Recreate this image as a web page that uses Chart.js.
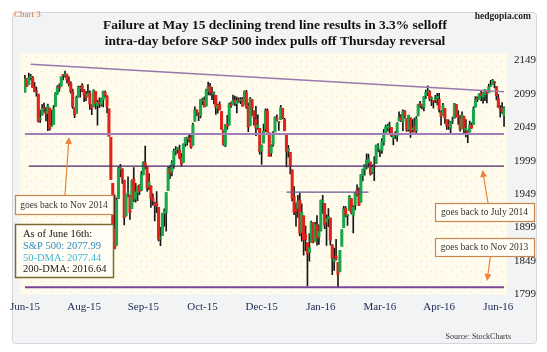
<!DOCTYPE html>
<html>
<head>
<meta charset="utf-8">
<script src="https://cdn.jsdelivr.net/npm/chart.js@4.4.0/dist/chart.umd.min.js"></script>
<style>
  html, body { margin: 0; padding: 0; background: #fff; }
  canvas { display: block; }
</style>
</head>
<body>
<canvas id="chart" width="547" height="352"></canvas>
<script>
// S&P 500 daily candles, Jun 18 2015 - Jun 16 2016
const dates = [
  '2015-06-18','2015-06-19','2015-06-22','2015-06-23','2015-06-24','2015-06-25','2015-06-26','2015-06-29','2015-06-30',
  '2015-07-01','2015-07-02','2015-07-06','2015-07-07','2015-07-08','2015-07-09','2015-07-10','2015-07-13','2015-07-14','2015-07-15','2015-07-16','2015-07-17','2015-07-20','2015-07-21','2015-07-22','2015-07-23','2015-07-24','2015-07-27','2015-07-28','2015-07-29','2015-07-30','2015-07-31',
  '2015-08-03','2015-08-04','2015-08-05','2015-08-06','2015-08-07','2015-08-10','2015-08-11','2015-08-12','2015-08-13','2015-08-14','2015-08-17','2015-08-18','2015-08-19','2015-08-20','2015-08-21','2015-08-24','2015-08-25','2015-08-26','2015-08-27','2015-08-28','2015-08-31',
  '2015-09-01','2015-09-02','2015-09-03','2015-09-04','2015-09-08','2015-09-09','2015-09-10','2015-09-11','2015-09-14','2015-09-15','2015-09-16','2015-09-17','2015-09-18','2015-09-21','2015-09-22','2015-09-23','2015-09-24','2015-09-25','2015-09-28','2015-09-29','2015-09-30',
  '2015-10-01','2015-10-02','2015-10-05','2015-10-06','2015-10-07','2015-10-08','2015-10-09','2015-10-12','2015-10-13','2015-10-14','2015-10-15','2015-10-16','2015-10-19','2015-10-20','2015-10-21','2015-10-22','2015-10-23','2015-10-26','2015-10-27','2015-10-28','2015-10-29','2015-10-30',
  '2015-11-02','2015-11-03','2015-11-04','2015-11-05','2015-11-06','2015-11-09','2015-11-10','2015-11-11','2015-11-12','2015-11-13','2015-11-16','2015-11-17','2015-11-18','2015-11-19','2015-11-20','2015-11-23','2015-11-24','2015-11-25','2015-11-27','2015-11-30',
  '2015-12-01','2015-12-02','2015-12-03','2015-12-04','2015-12-07','2015-12-08','2015-12-09','2015-12-10','2015-12-11','2015-12-14','2015-12-15','2015-12-16','2015-12-17','2015-12-18','2015-12-21','2015-12-22','2015-12-23','2015-12-24','2015-12-28','2015-12-29','2015-12-30','2015-12-31',
  '2016-01-04','2016-01-05','2016-01-06','2016-01-07','2016-01-08','2016-01-11','2016-01-12','2016-01-13','2016-01-14','2016-01-15','2016-01-19','2016-01-20','2016-01-21','2016-01-22','2016-01-25','2016-01-26','2016-01-27','2016-01-28','2016-01-29',
  '2016-02-01','2016-02-02','2016-02-03','2016-02-04','2016-02-05','2016-02-08','2016-02-09','2016-02-10','2016-02-11','2016-02-12','2016-02-16','2016-02-17','2016-02-18','2016-02-19','2016-02-22','2016-02-23','2016-02-24','2016-02-25','2016-02-26','2016-02-29',
  '2016-03-01','2016-03-02','2016-03-03','2016-03-04','2016-03-07','2016-03-08','2016-03-09','2016-03-10','2016-03-11','2016-03-14','2016-03-15','2016-03-16','2016-03-17','2016-03-18','2016-03-21','2016-03-22','2016-03-23','2016-03-24','2016-03-28','2016-03-29','2016-03-30','2016-03-31',
  '2016-04-01','2016-04-04','2016-04-05','2016-04-06','2016-04-07','2016-04-08','2016-04-11','2016-04-12','2016-04-13','2016-04-14','2016-04-15','2016-04-18','2016-04-19','2016-04-20','2016-04-21','2016-04-22','2016-04-25','2016-04-26','2016-04-27','2016-04-28','2016-04-29',
  '2016-05-02','2016-05-03','2016-05-04','2016-05-05','2016-05-06','2016-05-09','2016-05-10','2016-05-11','2016-05-12','2016-05-13','2016-05-16','2016-05-17','2016-05-18','2016-05-19','2016-05-20','2016-05-23','2016-05-24','2016-05-25','2016-05-26','2016-05-27','2016-05-31',
  '2016-06-01','2016-06-02','2016-06-03','2016-06-06','2016-06-07','2016-06-08','2016-06-09','2016-06-10','2016-06-13','2016-06-14','2016-06-15','2016-06-16'
];

const opens = [
  2101.6,2121.1,2112.5,2123.2,2123.6,2109.9,2102.6,2098.6,2061.2,
  2067.0,2078.0,2073.0,2069.5,2077.7,2049.7,2052.7,2080.0,2099.7,2109.0,2110.6,2126.8,2126.9,2127.6,2118.2,2114.2,2102.2,2078.2,2070.0,2094.0,2106.8,2111.6,
  2104.5,2097.7,2095.3,2100.1,2082.6,2080.1,2102.7,2081.1,2086.2,2083.2,2089.7,2101.1,2095.7,2076.6,2034.1,1965.2,1898.1,1872.8,1942.8,1986.1,1986.7,
  1970.1,1916.5,1950.8,1947.8,1927.3,1971.5,1941.6,1951.5,1963.1,1955.1,1978.0,1995.3,1989.7,1960.8,1961.4,1943.2,1934.8,1935.9,1929.2,1881.9,1887.1,
  1919.7,1921.8,1954.3,1986.6,1982.3,1994.0,2013.7,2015.7,2015.0,2003.7,1996.5,2024.4,2031.7,2033.1,2033.5,2021.9,2058.2,2075.1,2068.8,2066.5,2088.4,2090.0,
  2080.8,2102.6,2110.6,2101.7,2098.6,2096.6,2077.2,2083.4,2072.3,2044.6,2022.1,2053.7,2052.0,2083.7,2082.8,2089.4,2084.4,2089.3,2088.8,2091.0,
  2082.9,2101.7,2080.7,2051.2,2090.4,2073.4,2061.2,2047.9,2047.3,2013.4,2025.6,2046.5,2073.8,2040.8,2010.3,2023.2,2042.2,2063.5,2057.8,2060.5,2077.3,2060.6,
  2038.2,2013.8,2011.7,1985.3,1946.0,1926.1,1927.8,1940.3,1891.7,1916.7,1888.7,1876.2,1861.5,1877.4,1906.3,1878.8,1902.5,1885.2,1894.0,
  1936.9,1935.3,1907.1,1911.7,1913.1,1873.2,1848.5,1857.1,1847.0,1833.4,1871.4,1898.8,1927.6,1916.7,1924.4,1942.4,1917.6,1931.9,1955.0,1947.1,
  1937.1,1976.6,1985.6,1994.0,1996.1,1996.9,1981.4,1991.0,1994.7,2019.3,2015.3,2014.2,2026.9,2041.2,2047.9,2048.6,2048.6,2032.5,2037.9,2035.8,2058.3,2063.8,
  2056.6,2073.2,2062.5,2045.6,2063.0,2045.5,2050.2,2043.7,2065.9,2082.9,2083.1,2078.8,2096.1,2101.4,2102.1,2091.5,2089.4,2089.8,2092.6,2090.9,2071.8,
  2067.2,2077.2,2060.3,2052.9,2047.8,2057.6,2062.6,2083.3,2067.2,2062.5,2046.5,2065.0,2044.4,2044.2,2041.9,2052.2,2052.7,2078.9,2091.4,2090.1,2100.1,
  2093.9,2097.7,2104.1,2100.8,2110.2,2112.7,2115.7,2109.7,2091.8,2076.7,2077.6,2066.4
];

const highs = [
  2126.6,2121.6,2130.0,2128.0,2125.1,2116.0,2108.9,2098.6,2074.3,
  2082.8,2085.1,2078.6,2083.7,2077.7,2074.3,2081.3,2100.7,2111.4,2114.1,2124.4,2128.1,2132.8,2128.4,2124.2,2116.9,2106.0,2078.2,2095.6,2110.6,2110.5,2114.2,
  2105.7,2102.5,2112.7,2103.3,2082.6,2105.4,2102.7,2089.1,2092.9,2092.5,2102.9,2103.5,2096.2,2076.6,2034.1,1965.2,1948.0,1943.1,1989.6,1993.5,1986.7,
  1970.1,1948.9,1975.0,1947.8,1970.4,1988.6,1965.3,1961.1,1963.1,1983.2,1997.3,2020.9,1989.7,1979.6,1961.4,1949.5,1937.2,1952.9,1929.2,1899.5,1920.5,
  1927.2,1951.4,1989.2,1991.6,1999.3,2016.5,2020.1,2018.7,2022.3,2009.6,2024.2,2033.5,2034.5,2039.1,2038.0,2055.2,2079.7,2075.1,2070.4,2090.4,2092.5,2094.3,
  2106.2,2116.5,2114.6,2108.8,2101.9,2096.6,2083.7,2086.9,2072.3,2044.6,2053.2,2066.7,2085.3,2086.7,2097.1,2095.6,2094.1,2093.0,2093.3,2093.8,
  2103.4,2104.3,2085.0,2093.8,2090.4,2073.4,2080.3,2067.6,2047.3,2022.9,2053.9,2076.7,2076.4,2040.8,2022.9,2042.7,2064.7,2067.4,2057.8,2081.6,2077.3,2062.5,
  2038.2,2021.9,2011.7,1985.3,1960.4,1935.7,1947.4,1950.3,1934.5,1916.7,1901.4,1876.2,1889.9,1908.9,1906.3,1906.7,1917.0,1903.0,1940.2,
  1947.2,1935.3,1918.0,1927.4,1913.1,1873.2,1868.3,1881.6,1847.0,1864.8,1895.8,1930.7,1930.5,1918.8,1946.7,1942.4,1932.1,1951.8,1963.0,1958.3,
  1978.4,1986.5,1993.7,2009.1,2008.8,1996.9,1992.7,2005.1,2022.4,2024.6,2015.9,2032.0,2046.0,2052.4,2053.9,2056.6,2048.6,2036.0,2042.7,2055.9,2072.2,2067.9,
  2075.1,2074.0,2062.5,2067.3,2063.0,2060.6,2062.9,2065.1,2083.2,2087.8,2083.2,2094.7,2104.7,2111.1,2103.8,2094.3,2089.4,2096.9,2099.9,2099.9,2073.9,
  2084.9,2077.2,2060.3,2060.2,2057.7,2064.2,2084.9,2083.3,2074.0,2066.8,2071.9,2065.7,2060.6,2044.2,2058.4,2055.6,2079.7,2094.7,2094.3,2099.1,2103.5,
  2101.0,2105.3,2104.1,2113.4,2119.2,2120.6,2117.6,2109.7,2098.1,2081.3,2085.7,2079.6
];

const lows = [
  2101.6,2109.5,2112.5,2119.9,2108.6,2101.8,2095.4,2056.6,2056.3,
  2067.0,2071.0,2058.4,2044.0,2044.7,2049.7,2052.7,2080.0,2098.2,2102.5,2110.6,2119.9,2123.7,2115.4,2110.8,2099.8,2077.1,2063.5,2070.0,2094.0,2094.1,2102.1,
  2087.3,2088.6,2095.3,2075.5,2067.9,2080.1,2076.5,2052.1,2078.3,2080.6,2079.3,2094.1,2070.5,2035.7,1970.9,1867.0,1867.1,1872.8,1942.8,1975.2,1965.0,
  1903.1,1916.5,1944.7,1911.2,1927.3,1937.9,1937.2,1939.2,1948.3,1954.3,1977.9,1986.7,1953.5,1955.8,1929.2,1932.6,1908.9,1921.5,1879.2,1871.9,1887.1,
  1900.7,1893.7,1954.3,1972.0,1976.4,1987.5,2007.6,2010.3,2001.8,1990.7,1996.5,2020.5,2022.3,2026.6,2017.2,2021.9,2058.2,2066.5,2058.8,2063.1,2082.6,2079.3,
  2080.8,2097.5,2097.0,2090.4,2083.7,2068.2,2069.9,2074.9,2045.7,2022.0,2019.9,2045.9,2052.0,2078.8,2082.8,2081.4,2070.3,2086.3,2084.1,2080.4,
  2082.9,2077.1,2042.4,2051.2,2066.8,2052.3,2036.5,2045.9,2008.8,1993.3,2025.6,2042.4,2041.7,2005.3,2005.9,2020.5,2042.2,2058.7,2044.2,2060.5,2062.0,2043.6,
  1989.7,2004.2,1979.1,1938.8,1918.5,1901.1,1914.4,1886.4,1878.9,1857.8,1864.6,1812.3,1849.0,1877.4,1876.0,1878.8,1872.7,1873.7,1894.0,
  1920.3,1897.3,1872.2,1900.5,1872.7,1828.5,1834.9,1850.3,1810.1,1833.4,1871.4,1898.8,1915.1,1902.2,1924.4,1919.4,1891.0,1925.4,1945.8,1931.8,
  1937.1,1968.8,1977.4,1986.8,1989.3,1977.4,1979.8,1969.2,1994.7,2012.1,2005.2,2010.0,2022.2,2041.2,2043.1,2040.6,2034.9,2022.5,2032.0,2028.3,2058.3,2057.5,
  2044.0,2062.6,2042.6,2043.1,2033.8,2041.7,2041.9,2039.7,2065.9,2078.1,2076.3,2073.6,2091.7,2096.3,2088.5,2081.2,2077.5,2085.8,2082.3,2071.6,2052.3,
  2067.2,2054.9,2045.6,2045.8,2039.5,2054.3,2062.6,2064.5,2053.1,2043.1,2046.5,2040.8,2034.5,2025.9,2041.9,2047.3,2052.7,2078.9,2087.1,2090.1,2088.7,
  2085.1,2088.6,2085.4,2100.8,2110.2,2112.7,2107.7,2090.0,2078.5,2064.1,2069.8,2050.4
];

const closes = [
  2121.2,2110.0,2122.9,2124.2,2108.6,2102.3,2101.5,2057.6,2063.1,
  2077.4,2076.8,2068.8,2081.3,2046.7,2051.3,2076.6,2099.6,2108.9,2107.4,2124.3,2126.6,2128.3,2119.2,2114.2,2102.2,2079.7,2067.6,2093.3,2108.6,2108.6,2104.0,
  2098.0,2093.3,2099.8,2083.6,2077.6,2104.2,2084.1,2086.1,2083.4,2091.5,2102.4,2096.9,2079.6,2035.7,1970.9,1893.2,1867.6,1940.5,1987.7,1988.9,1972.2,
  1913.9,1948.9,1951.1,1921.2,1969.4,1942.0,1952.3,1961.1,1953.0,1978.1,1995.3,1990.2,1958.0,1967.0,1942.7,1938.8,1932.2,1931.3,1881.8,1884.1,1920.0,
  1923.8,1951.4,1987.1,1979.9,1995.8,2013.4,2014.9,2017.5,2003.7,1994.2,2023.9,2033.1,2033.7,2030.8,2018.9,2052.5,2075.2,2071.2,2065.9,2090.4,2089.4,2079.4,
  2104.1,2109.8,2102.3,2099.9,2099.2,2078.6,2081.7,2075.0,2046.0,2023.0,2053.2,2050.4,2083.6,2081.2,2089.2,2086.6,2089.1,2088.9,2090.1,2080.4,
  2102.6,2079.5,2049.6,2091.7,2077.1,2063.6,2047.6,2052.2,2012.4,2021.9,2043.4,2073.1,2041.9,2005.6,2021.2,2039.0,2064.3,2061.0,2056.5,2078.4,2063.4,2043.9,
  2012.7,2016.7,1990.3,1943.1,1922.0,1923.7,1938.7,1890.3,1921.8,1880.3,1881.3,1859.3,1869.0,1906.9,1877.1,1903.6,1883.0,1893.4,1940.2,
  1939.4,1903.0,1912.5,1915.5,1880.1,1853.4,1852.2,1851.9,1829.1,1864.8,1895.6,1926.8,1917.8,1917.8,1945.5,1921.3,1929.8,1951.7,1948.1,1932.2,
  1978.4,1986.5,1993.4,2000.0,2001.8,1979.3,1989.3,1989.6,2022.2,2019.6,2015.9,2027.2,2040.6,2049.6,2051.6,2049.8,2036.7,2035.9,2037.1,2055.0,2064.0,2059.7,
  2072.8,2066.1,2045.2,2066.7,2041.9,2047.6,2042.0,2061.7,2082.4,2082.8,2080.7,2094.3,2100.8,2102.4,2091.5,2091.6,2087.8,2091.7,2095.2,2075.8,2065.3,
  2081.4,2063.4,2051.1,2050.6,2057.1,2058.7,2084.4,2064.5,2064.1,2046.6,2066.7,2047.2,2047.6,2040.0,2052.3,2048.0,2076.1,2090.5,2090.1,2099.1,2097.0,
  2099.3,2105.3,2099.1,2109.4,2112.1,2119.1,2115.5,2096.1,2079.1,2075.3,2071.5,2078.0
];

// y axis ticks, x label every 31st session
const yTicks = [1799, 1849, 1899, 1949, 1999, 2049, 2099, 2149];
const monthNames = ['Jan','Feb','Mar','Apr','May','Jun','Jul','Aug','Sep','Oct','Nov','Dec'];
const labelEvery = 31;

// drawn lines: declining trend line + horizontal levels
const trendIdx = [3, 251];
const trendVal = [2143, 2102];
const levelVal = [2039, 1991, 1952, 1810];
const levelFrom = [0, 2, 137, 0];
const levelTo = [251, 251, 180, 251];
const levelColor = ['#a27cb6', '#4e2266', '#6b568c', '#7d4499'];
const levelWidth = [2, 1.3, 1.2, 2];

const SERIF = "'Liberation Serif', 'Times New Roman', serif";

const fmtMonth = s => monthNames[+s.slice(5, 7) - 1] + '-' + s.slice(2, 4);
const candleColors = opens.map((o, i) => closes[i] >= o ? '#1aa64a' : '#e2231b');

const lineDatasets = [
  {
    type: 'line',
    data: trendIdx.map((d, k) => ({ x: dates[d], y: trendVal[k] })),
    borderColor: '#9878ad', borderWidth: 1.5, pointRadius: 0, order: 0
  },
  ...levelVal.map((v, k) => ({
    type: 'line',
    data: [{ x: dates[levelFrom[k]], y: v }, { x: dates[levelTo[k]], y: v }],
    borderColor: levelColor[k], borderWidth: levelWidth[k], pointRadius: 0, order: 0
  }))
];

// frame + dotted plot background
const frameBg = {
  id: 'frameBg',
  beforeDraw(chart) {
    const { ctx, chartArea: a } = chart;
    ctx.save();
    ctx.fillStyle = '#fff';
    ctx.fillRect(0, 0, chart.width, chart.height);
    ctx.fillStyle = '#f2f3f5';
    ctx.strokeStyle = '#d5d6db';
    ctx.lineWidth = 1;
    ctx.beginPath();
    ctx.roundRect(12.5, 12.5, 524, 331, 3);
    ctx.fill();
    ctx.stroke();
    const tile = document.createElement('canvas');
    tile.width = 10; tile.height = 10;
    const t = tile.getContext('2d');
    t.fillStyle = '#fffcee';
    t.fillRect(0, 0, 10, 10);
    t.fillStyle = '#ece09a';
    t.fillRect(1, 1, 1, 1);
    t.fillRect(6, 6, 1, 1);
    ctx.fillStyle = ctx.createPattern(tile, 'repeat');
    ctx.fillRect(a.left - 4, a.top, a.right - a.left + 6, a.bottom - a.top);
    ctx.restore();
  }
};

const arrow = (ctx, x1, y1, x2, y2) => {
  const ang = Math.atan2(y2 - y1, x2 - x1);
  ctx.beginPath();
  ctx.moveTo(x1, y1);
  ctx.lineTo(x2 - 5 * Math.cos(ang), y2 - 5 * Math.sin(ang));
  ctx.stroke();
  ctx.beginPath();
  ctx.moveTo(x2, y2);
  ctx.lineTo(x2 - 7 * Math.cos(ang) + 3.5 * Math.sin(ang), y2 - 7 * Math.sin(ang) - 3.5 * Math.cos(ang));
  ctx.lineTo(x2 - 7 * Math.cos(ang) - 3.5 * Math.sin(ang), y2 - 7 * Math.sin(ang) + 3.5 * Math.cos(ang));
  ctx.closePath();
  ctx.fill();
};

const box = (ctx, x, y, w, h, border) => {
  ctx.fillStyle = '#fffdf4';
  ctx.strokeStyle = border;
  ctx.fillRect(x, y, w, h);
  ctx.strokeRect(x + 0.5, y + 0.5, w, h);
};

// title, notes and callouts
const notes = {
  id: 'notes',
  afterDraw(chart) {
    const { ctx } = chart;
    ctx.save();
    ctx.textBaseline = 'middle';

    // title sized to the reference width
    const t1 = 'Failure at May 15 declining trend line results in 3.3% selloff';
    const t2 = 'intra-day before S&P 500 index pulls off Thursday reversal';
    ctx.font = 'bold 14px ' + SERIF;
    const size = 14 * 344 / ctx.measureText(t1).width;
    ctx.font = `bold ${size.toFixed(2)}px ${SERIF}`;
    ctx.fillStyle = '#111';
    ctx.textAlign = 'center';
    ctx.fillText(t1, 275, 26);
    ctx.fillText(t2, 275, 41.5);

    ctx.textAlign = 'left';
    ctx.font = '9px ' + SERIF;
    ctx.fillStyle = '#d77a33';
    ctx.fillText('Chart 3', 14, 15);

    ctx.textAlign = 'right';
    ctx.font = 'bold 9.5px ' + SERIF;
    ctx.fillStyle = '#222';
    ctx.fillText('hedgopia.com', 531, 17);

    ctx.font = '8px ' + SERIF;
    ctx.fillStyle = '#333';
    ctx.fillText('Source: StockCharts', 511, 337);

    // arrows
    ctx.strokeStyle = '#e8843c';
    ctx.fillStyle = '#e8843c';
    ctx.lineWidth = 1.2;
    arrow(ctx, 65, 195, 69, 137);
    arrow(ctx, 488, 203, 482.5, 170);
    arrow(ctx, 493, 238, 487, 281);

    // callout boxes
    ctx.lineWidth = 1.2;
    box(ctx, 15, 195, 98, 19, '#c98650');
    box(ctx, 435, 203, 99, 18, '#c98650');
    box(ctx, 435, 238, 99, 18, '#c98650');
    ctx.lineWidth = 1.5;
    box(ctx, 15, 224, 98, 53, '#7b6a32');

    ctx.textAlign = 'center';
    ctx.font = '9.5px ' + SERIF;
    ctx.fillStyle = '#333';
    ctx.fillText('goes back to Nov 2014', 64, 205);
    ctx.fillText('goes back to July 2014', 484.5, 212.5);
    ctx.fillText('goes back to Nov 2013', 484.5, 247.5);

    ctx.textAlign = 'left';
    ctx.font = '10.5px ' + SERIF;
    ctx.fillStyle = '#111';
    ctx.fillText('As of June 16th:', 23, 234);
    ctx.fillStyle = '#2f8cc2';
    ctx.fillText('S&P 500: 2077.99', 23, 246);
    ctx.fillStyle = '#3db6d6';
    ctx.fillText('50-DMA: 2077.44', 23, 258);
    ctx.fillStyle = '#222';
    ctx.fillText('200-DMA: 2016.64', 23, 269.5);
    ctx.restore();
  }
};

new Chart(document.getElementById('chart'), {
  type: 'bar',
  data: {
    labels: dates,
    datasets: [
      ...lineDatasets,
      {
        data: opens.map((o, i) => [o, closes[i]]),
        backgroundColor: candleColors,
        barThickness: 2.4,
        minBarLength: 1,
        grouped: false,
        order: 2
      },
      {
        data: lows.map((l, i) => [l, highs[i]]),
        backgroundColor: '#161616',
        barThickness: 1,
        grouped: false,
        order: 3
      }
    ]
  },
  options: {
    responsive: false,
    animation: false,
    devicePixelRatio: 1,
    layout: { padding: { left: 24, top: 53, right: 0, bottom: 0 } },
    plugins: { legend: { display: false }, tooltip: { enabled: false } },
    scales: {
      x: {
        grid: { display: false, drawTicks: false },
        border: { display: false },
        afterFit: s => { s.height = 57.5; },
        ticks: {
          autoSkip: false,
          maxRotation: 0,
          padding: 6,
          color: '#1a2853',
          font: { family: SERIF, size: 11 },
          callback: (v, i) => i % labelEvery === 0 ? fmtMonth(dates[i]) : null
        }
      },
      y: {
        position: 'right',
        min: 1799,
        max: 2160,
        grid: { display: false, drawTicks: false },
        border: { display: false },
        afterFit: s => { s.width = 42; },
        afterBuildTicks: s => { s.ticks = yTicks.map(v => ({ value: v })); },
        ticks: {
          padding: 9,
          color: '#222',
          font: { family: SERIF, size: 11 },
          callback: v => String(v)
        }
      }
    }
  },
  plugins: [frameBg, notes]
});
</script>
</body>
</html>
